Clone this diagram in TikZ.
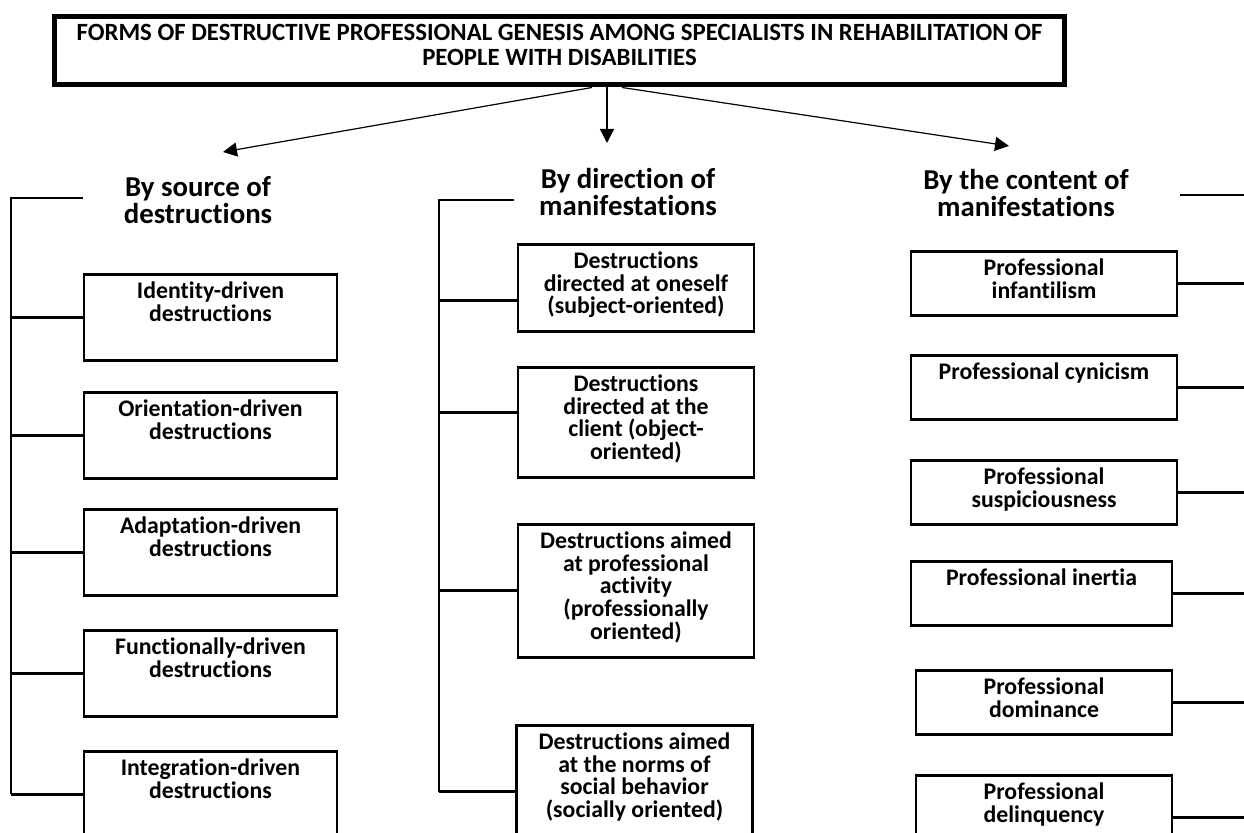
\documentclass[tikz,border=0pt]{standalone}
\usepackage{fontspec}
\setmainfont{Carlito}[Ligatures=NoCommon]
\usetikzlibrary{arrows.meta}

\newcommand{\topline}{\rule{0pt}{10pt}}

\begin{document}
\begin{tikzpicture}[x=0.5pt, y=-0.5pt,
		every node/.style={font=\bfseries},
		frame/.style={draw, line width=1.35pt, anchor=north, inner sep=0pt},
		inlbl/.style={anchor=north, yshift=-2.5pt, inner sep=0pt, align=center,
			font=\bfseries\fontsize{11.9}{11.4}\selectfont},
		srcbox/.style={frame, minimum width=126.5pt, minimum height=43pt, label={[inlbl]north:{\topline#1}}},
		dirbox/.style={frame, minimum width=118pt, label={[inlbl]north:{\topline#1}}},
		contbox/.style={frame, minimum width=133pt, minimum height=32pt, label={[inlbl]north:{\topline#1}}},
		head/.style={anchor=base, align=center, inner sep=0pt,
			font=\bfseries\fontsize{14.4}{13.5}\selectfont},
		link/.style={line width=1.35pt}
	]
			\fill[white] (0,0) rectangle (1244,833);
			\useasboundingbox (0,0) rectangle (1244,833);
			\clip (0,0) rectangle (1244,833);
			
			\node[frame, line width=2.75pt, minimum width=505pt, minimum height=34pt,
				label={[anchor=north, yshift=-3pt, inner sep=0pt, align=center,
					font=\bfseries\fontsize{12.4}{12.5}\selectfont]north:{\topline FORMS OF DESTRUCTIVE PROFESSIONAL GENESIS AMONG SPECIALISTS IN REHABILITATION OF\\PEOPLE WITH DISABILITIES}}]
				(title) at (559.5,14) {};
			
			\node[head] (hsrc) at (198,224) {By source of\\destructions};
			\node[head] (hdir) at (628,216) {By direction of\\manifestations};
			\node[head] (hcont) at (1026,217) {By the content of\\manifestations};
			
			\coordinate (srcarr) at (223,152);
			\coordinate (dirarr) at (607,143);
			\coordinate (contarr) at (1009,146);
			\begin{scope}[-{Triangle[length=7pt,width=7pt]}, line width=0.6pt]
			\draw ([xshift=16.25pt]title.south) -- (srcarr);
			\draw ([xshift=23.75pt]title.south) -- (dirarr);
			\draw ([xshift=31.25pt]title.south) -- (contarr);
			\end{scope}
			
			% by source
			\node[srcbox={Identity-driven\\destructions}] (s1) at (210.5,273) {};
			\node[srcbox={Orientation-driven\\destructions}] (s2) at (210.5,391) {};
			\node[srcbox={Adaptation-driven\\destructions}] (s3) at (210.5,508) {};
			\node[srcbox={Functionally-driven\\destructions}] (s4) at (210.5,629) {};
			\node[srcbox={Integration-driven\\destructions}] (s5) at (210.5,750) {};
			
			\coordinate (lbar) at (11,198);
			\coordinate (lstub) at (83,198);
			\draw[link] (lstub) -- (lbar) -- (lbar |- s5.west);
			\foreach \n in {s1,s2,s3,s4,s5}
				\draw[link] (\n.west) -- (\n.west -| lbar);
			
			% by direction
			\node[dirbox={Destructions\\directed at oneself\\(subject-oriented)}, minimum height=43.5pt] (m1) at (636,243) {};
			\node[dirbox={Destructions\\directed at the\\client (object-\\oriented)}, minimum height=55pt] (m2) at (636,366) {};
			\node[dirbox={Destructions aimed\\at professional\\activity\\(professionally\\oriented)}, minimum height=66.5pt] (m3) at (636,523) {};
			\node[dirbox={Destructions aimed\\at the norms of\\social behavior\\(socially oriented)}, minimum height=66.5pt] (m4) at (634.5,724) {};
			
			\coordinate (mbar) at (439,200);
			\coordinate (mstub) at (514,200);
			\coordinate (m1c) at ([yshift=-6.5pt]m1.west);
			\coordinate (m2c) at ([yshift=4.75pt]m2.west);
			\coordinate (m3c) at (m3.west);
			\coordinate (m4c) at (m4.west);
			\draw[link] (mstub) -- (mbar) -- (mbar |- m4c);
			\foreach \n in {m1c,m2c,m3c,m4c}
				\draw[link] (\n) -- (\n -| mbar);
			
			% by content
			\node[contbox={Professional\\infantilism}] (c1) at (1044,250) {};
			\node[contbox={Professional cynicism}] (c2) at (1044,354) {};
			\node[contbox={Professional\\suspiciousness}] (c3) at (1044,459) {};
			\node[contbox={Professional inertia}, minimum width=130.5pt] (c4) at (1041.5,560) {};
			\node[contbox={Professional\\dominance}, minimum width=128pt] (c5) at (1044,669) {};
			\node[contbox={Professional\\delinquency}, minimum width=128pt, minimum height=42.5pt] (c6) at (1044,774) {};
			
			\coordinate (redge) at (1244,195);
			\coordinate (rstub) at (1180,195);
			\draw[link] (rstub) -- (redge);
			\foreach \n in {c1,c2,c3,c4,c5,c6}
				\draw[link] (\n.east) -- (\n.east -| redge);
		\end{tikzpicture}
\end{document}
